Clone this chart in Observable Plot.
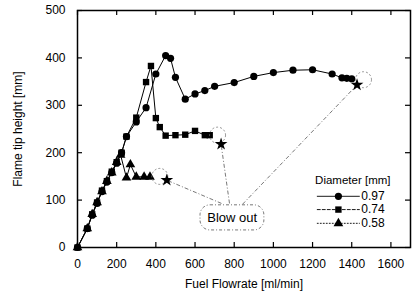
<!DOCTYPE html>
<html><head><meta charset="utf-8">
<script src="https://cdn.jsdelivr.net/npm/d3@7"></script>
<script src="https://cdn.jsdelivr.net/npm/@observablehq/plot@0.6"></script>
<style>body{margin:0;background:#fff}</style>
</head><body><div id="chart"></div>
<script>
// ---- data ----
const flow097 = [0, 50, 75, 100, 125, 150, 175, 200, 225, 250, 300, 350, 400, 450, 475, 500, 550, 600, 650, 700, 800, 900, 1000, 1100, 1200, 1300, 1350, 1375, 1400];
const height097 = [0, 40, 68, 93, 118, 138, 158, 178, 200, 234, 265, 295, 366, 405, 399, 359, 313, 324, 331, 340, 348, 361, 369, 374, 375, 366, 358, 357, 356];
const flow074 = [0, 50, 75, 100, 125, 150, 175, 200, 225, 250, 300, 350, 375, 400, 420, 450, 500, 550, 600, 650, 675];
const height074 = [0, 40, 70, 95, 120, 140, 160, 180, 200, 234, 274, 349, 383, 273, 254, 236, 237, 238, 246, 237, 237];
const flow058 = [0, 50, 75, 100, 125, 150, 175, 200, 220, 250, 270, 300, 340, 370];
const height058 = [0, 40, 70, 95, 118, 140, 158, 180, 195, 147, 175, 149, 149, 149];
const diameters = ["0.97", "0.74", "0.58"];
const xTicks = [0, 200, 400, 600, 800, 1000, 1200, 1400, 1600];
const yTicks = [0, 100, 200, 300, 400, 500];
// blow-out annotations (order: 0.97, 0.74, 0.58)
const blowFlow = [1460, 715, 420];
const blowHeight = [354, 237, 150];
const arrowFlow = [1427, 733, 456];
const arrowHeight = [343, 218, 142];
const calloutFlow = [842, 776, 735];
const calloutHeight = [91, 93, 93];
const blowLabel = "Blow out";

// ---- layout ----
const W = 416, H = 302;
const mL = 77, mR = 6, mT = 10, mB = 55;
const iw = W - mL - mR, ih = H - mT - mB;
const tk = 5;
const font = "'Liberation Sans', Arial, Helvetica, sans-serif";

const seriesDefs = [
  {name: diameters[0], flow: flow097, h: height097, symbol: "circle", dash: null},
  {name: diameters[1], flow: flow074, h: height074, symbol: "square", dash: "3,2"},
  {name: diameters[2], flow: flow058, h: height058, symbol: "triangle", dash: "1,2"}
];

const marks = [];
for (const s of seriesDefs) {
  const pts = s.flow.map((f, i) => ({x: f, y: s.h[i]}));
  marks.push(Plot.line(pts, {x: "x", y: "y", stroke: "#000", strokeWidth: 1}));
  marks.push(Plot.dot(pts, {x: "x", y: "y", symbol: () => s.symbol, r: 3.6, fill: "#000", stroke: "none"}));
}

// annotations
const blow = blowFlow.map((f, i) => ({x: f, y: blowHeight[i], ax: arrowFlow[i], ay: arrowHeight[i], cx: calloutFlow[i], cy: calloutHeight[i]}));
marks.push(Plot.dot(blow, {x: "x", y: "y", r: 8, stroke: "#777", strokeWidth: 0.8, strokeDasharray: "2,2", fill: "none"}));
marks.push(Plot.link(blow, {x1: "cx", y1: "cy", x2: "ax", y2: "ay", stroke: "#555", strokeWidth: 0.8, strokeDasharray: "4,2,1,2"}));
marks.push(Plot.dot(blow, {x: "ax", y: "ay", symbol: "star", r: 4, fill: "#000", stroke: "none"}));
marks.push(Plot.rect([blowLabel], {x1: 628, x2: 954, y1: 36, y2: 89, rx: 10, fill: "#fff", stroke: "#555", strokeWidth: 0.8, strokeDasharray: "3,2,1,2"}));
marks.push(Plot.text([blowLabel], {x: 790, y: 62, text: d => d, fontSize: 13, fill: "#000"}));

// legend
const legY = [108, 80, 51];
marks.push(Plot.text(["Diameter [mm]"], {x: 1213, y: 142, text: d => d, textAnchor: "start", fontSize: 11.5, fill: "#000"}));
seriesDefs.forEach((s, i) => {
  marks.push(Plot.line([{x: 1224, y: legY[i]}, {x: 1439, y: legY[i]}], {x: "x", y: "y", stroke: "#000", strokeWidth: 0.9, strokeDasharray: s.dash}));
  marks.push(Plot.dot([{x: 1332, y: legY[i]}], {x: "x", y: "y", symbol: () => s.symbol, r: 3.6, fill: "#000"}));
  marks.push(Plot.text([s.name], {x: 1449, y: legY[i], text: d => d, textAnchor: "start", fontSize: 12, fill: "#000"}));
});

// inward ticks on four sides
marks.push(Plot.ruleX(xTicks, {x: d => d, insetTop: ih - tk, stroke: "#000", strokeWidth: 1.2}));
marks.push(Plot.ruleX(xTicks, {x: d => d, insetBottom: ih - tk, stroke: "#000", strokeWidth: 1.2}));
marks.push(Plot.ruleY(yTicks, {y: d => d, insetRight: iw - tk, stroke: "#000", strokeWidth: 1.2}));
marks.push(Plot.ruleY(yTicks, {y: d => d, insetLeft: iw - tk, stroke: "#000", strokeWidth: 1.2}));
marks.push(Plot.frame({stroke: "#000", strokeWidth: 1.5}));

// axes
marks.push(Plot.axisX({ticks: xTicks, tickFormat: d => String(d), tickSize: 0, tickPadding: 12, fontSize: 12, label: "Fuel Flowrate [ml/min]", labelAnchor: "center", labelArrow: "none", labelOffset: 40}));
marks.push(Plot.axisY({ticks: yTicks, tickFormat: d => String(d), tickSize: 0, tickPadding: 12, fontSize: 12, label: "Flame tip height [mm]", labelAnchor: "center", labelArrow: "none", labelOffset: 64}));

const chart = Plot.plot({
  width: W, height: H,
  marginLeft: mL, marginRight: mR, marginTop: mT, marginBottom: mB,
  style: {fontFamily: font, fontSize: "12px", color: "#000", background: "#fff"},
  x: {domain: [0, 1700]},
  y: {domain: [0, 500]},
  marks
});
document.getElementById("chart").appendChild(chart);
</script>
</body></html>
